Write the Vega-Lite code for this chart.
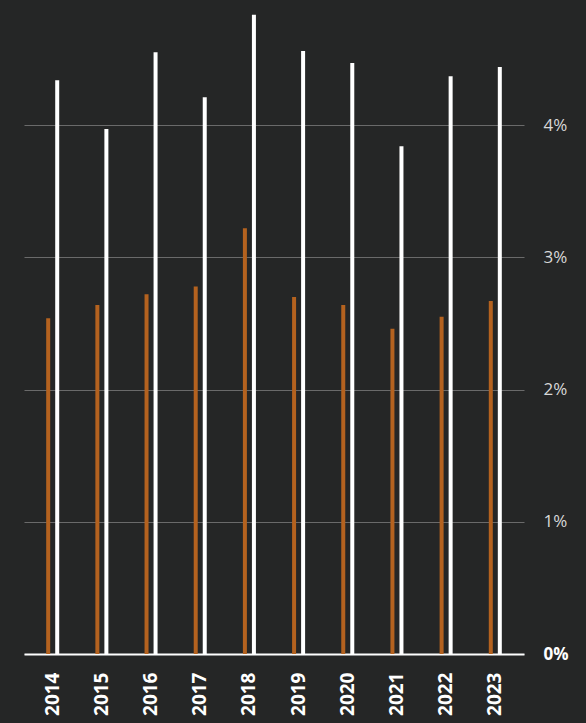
{
  "$schema": "https://vega.github.io/schema/vega-lite/v6.json",
  "width": 500,
  "height": 654,
  "autosize": "none",
  "padding": {"left": 24, "top": 0, "right": 62, "bottom": 69},
  "background": "#252626",
  "config": {"view": {"stroke": null}, "font": "Open Sans"},
  "data": {"values": [
    {"year": "2014", "series": "A", "value": 2.54},
    {"year": "2015", "series": "A", "value": 2.64},
    {"year": "2016", "series": "A", "value": 2.72},
    {"year": "2017", "series": "A", "value": 2.78},
    {"year": "2018", "series": "A", "value": 3.22},
    {"year": "2019", "series": "A", "value": 2.70},
    {"year": "2020", "series": "A", "value": 2.64},
    {"year": "2021", "series": "A", "value": 2.46},
    {"year": "2022", "series": "A", "value": 2.55},
    {"year": "2023", "series": "A", "value": 2.67},
    {"year": "2014", "series": "B", "value": 4.34},
    {"year": "2015", "series": "B", "value": 3.97},
    {"year": "2016", "series": "B", "value": 4.55},
    {"year": "2017", "series": "B", "value": 4.21},
    {"year": "2018", "series": "B", "value": 4.835},
    {"year": "2019", "series": "B", "value": 4.56},
    {"year": "2020", "series": "B", "value": 4.47},
    {"year": "2021", "series": "B", "value": 3.84},
    {"year": "2022", "series": "B", "value": 4.37},
    {"year": "2023", "series": "B", "value": 4.44}
  ]},
  "mark": {"type": "bar", "size": 4},
  "encoding": {
    "x": {
      "field": "year", "type": "nominal", "sort": null,
      "scale": {"paddingInner": 0.633, "paddingOuter": 0.4},
      "axis": {
        "title": null, "labelAngle": -90, "labelFontSize": 19, "labelFontWeight": "bold",
        "labelColor": "#ffffff", "labelPadding": 18, "ticks": false,
        "domainColor": "#ffffff", "domainWidth": 2, "grid": false
      }
    },
    "xOffset": {
      "field": "series", "type": "nominal",
      "scale": {"paddingInner": 0, "paddingOuter": 0}
    },
    "y": {
      "field": "value", "type": "quantitative",
      "scale": {"domain": [0, 4.946], "nice": false, "zero": true},
      "axis": {
        "title": null, "orient": "right", "values": [0, 1, 2, 3, 4],
        "labelExpr": "datum.value + '%'",
        "labelFontSize": 17,
        "labelFontWeight": {"condition": {"test": "datum.value == 0", "value": "bold"}, "value": "normal"},
        "labelColor": {"condition": {"test": "datum.value == 0", "value": "#ffffff"}, "value": "#d8d8d8"},
        "labelPadding": 19, "ticks": false, "domain": false,
        "gridColor": "#6a6a6a", "gridWidth": 1
      }
    },
    "color": {
      "field": "series", "type": "nominal", "legend": null,
      "scale": {"domain": ["A", "B"], "range": ["#b4621f", "#ffffff"]}
    }
  }
}
